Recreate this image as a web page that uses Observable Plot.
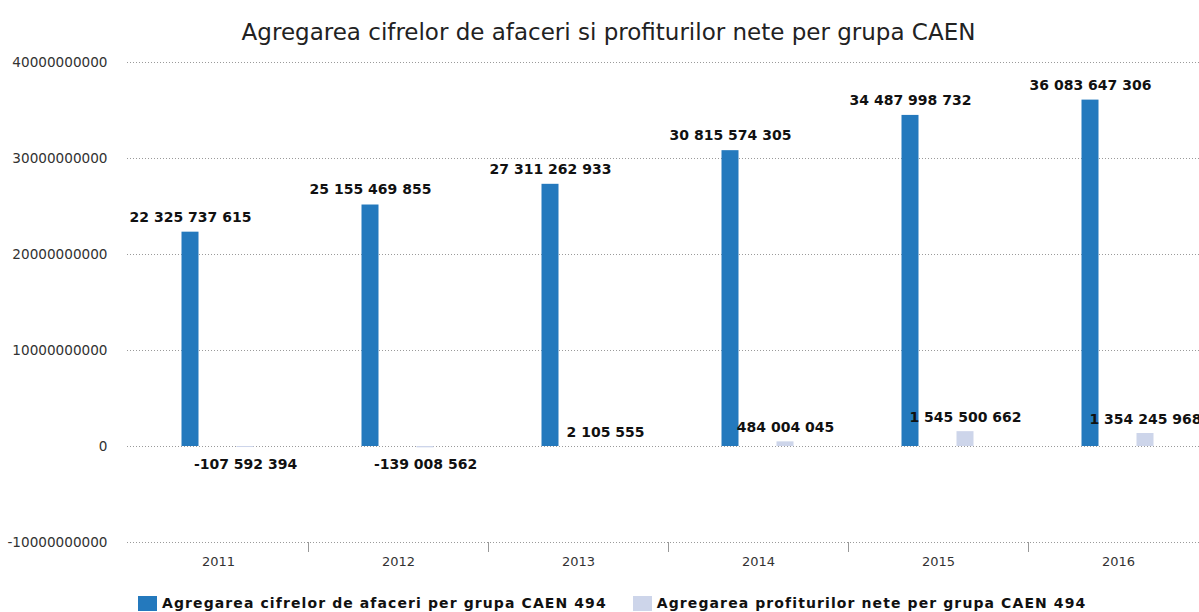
<!DOCTYPE html>
<html><head><meta charset="utf-8">
<script src="https://cdn.jsdelivr.net/npm/d3@7"></script>
<script src="https://cdn.jsdelivr.net/npm/@observablehq/plot@0.6"></script>
<style>
html,body{margin:0;padding:0;background:#fff;overflow:hidden;width:1199px;height:612px;}
body{font-family:"DejaVu Sans",sans-serif;}
#title{height:50px;box-sizing:border-box;padding-top:19px;padding-left:18px;text-align:center;font-size:23px;line-height:26px;color:#222;white-space:nowrap;}
#chart{height:535px;}
#legend{height:27px;display:flex;align-items:center;padding-left:138px;box-sizing:border-box;font-weight:bold;font-size:14px;letter-spacing:1.1px;color:#111;white-space:nowrap;padding-top:9px;}
.sw{width:19px;height:15px;display:inline-block;margin-right:5px;}
.item{display:flex;align-items:center;margin-right:26px;}
</style></head><body>
<div id="title"></div>
<div id="chart"></div>
<div id="legend"></div>
<script>
const titleText = "Agregarea cifrelor de afaceri si profiturilor nete per grupa CAEN";
const years = ["2011", "2012", "2013", "2014", "2015", "2016"];
const revenue = [22325737615, 25155469855, 27311262933, 30815574305, 34487998732, 36083647306];
const profit = [-107592394, -139008562, 2105555, 484004045, 1545500662, 1354245968];
const yTicks = [-10000000000, 0, 10000000000, 20000000000, 30000000000, 40000000000];
const seriesNames = ["Agregarea cifrelor de afaceri per grupa CAEN 494", "Agregarea profiturilor nete per grupa CAEN 494"];
const colors = ["#2479bd", "#cdd5ea"];

const fmt = d => (d < 0 ? "-" : "") + d3.format(",")(Math.abs(d)).replace(/,/g, " ");

document.getElementById("title").textContent = titleText;

const pos = years.map((y, i) => i).filter(i => profit[i] >= 0);
const neg = years.map((y, i) => i).filter(i => profit[i] < 0);

const chart = Plot.plot({
  width: 1199,
  height: 535,
  marginLeft: 127,
  marginRight: 0,
  marginTop: 12,
  marginBottom: 43,
  style: {fontFamily: "DejaVu Sans", background: "transparent", overflow: "visible"},
  x: {domain: years, range: [127, 1209], padding: 0},
  y: {domain: [-10000000000, 40000000000], range: [492, 12]},
  marks: [
    Plot.gridY(yTicks, {stroke: "#9a9a9a", strokeOpacity: 1, strokeDasharray: "1,2"}),
    Plot.axisY(yTicks, {tickSize: 0, tickPadding: 20, tickFormat: d => String(d), fontSize: 13.6, fill: "#333"}),
    Plot.axisX({tickSize: 0, tickPadding: 14, fontSize: 13, fill: "#333"}),
    Plot.axisX(years.slice(0, -1), {tickSize: 10, tickFormat: () => "", dx: 90, stroke: "#999"}),
    Plot.barY(years, {x: years, y: revenue, fill: colors[0], insetLeft: 81.5, insetRight: 81.5, dx: -28}),
    Plot.barY(years, {x: years, y: profit, fill: colors[1], insetLeft: 81.5, insetRight: 81.5, dx: 27}),
    Plot.text(years, {x: years, y: revenue, text: revenue.map(fmt), dx: -28, dy: -15, fontWeight: "bold", fontSize: 14, fill: "#111"}),
    Plot.text(pos, {x: i => years[i], y: i => profit[i], text: i => fmt(profit[i]), dx: 27, dy: -14, fontWeight: "bold", fontSize: 14, fill: "#111"}),
    Plot.text(neg, {x: i => years[i], y: i => profit[i], text: i => fmt(profit[i]), dx: 27, dy: 17, fontWeight: "bold", fontSize: 14, fill: "#111"})
  ]
});
document.getElementById("chart").appendChild(chart);

const legend = document.getElementById("legend");
seriesNames.forEach((name, i) => {
  const item = document.createElement("div");
  item.className = "item";
  const sw = document.createElement("span");
  sw.className = "sw";
  sw.style.background = colors[i];
  const t = document.createElement("span");
  t.textContent = name;
  item.appendChild(sw);
  item.appendChild(t);
  legend.appendChild(item);
});
</script>
</body></html>
